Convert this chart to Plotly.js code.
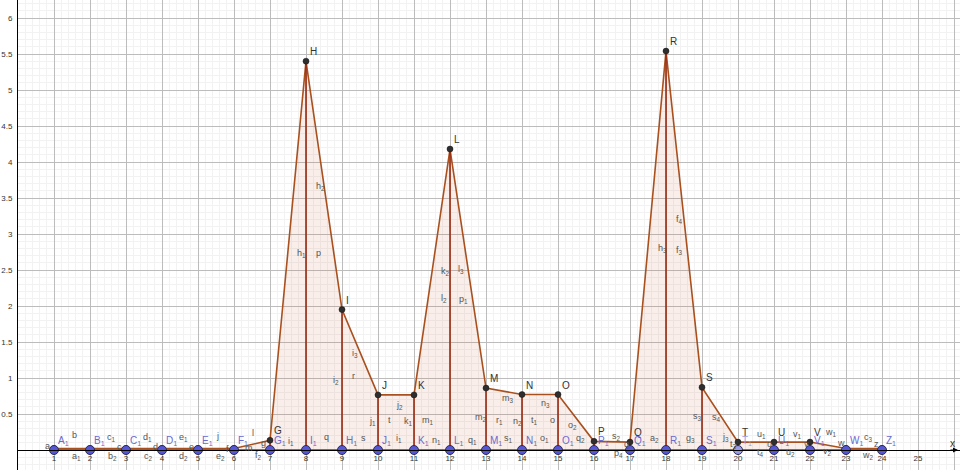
<!DOCTYPE html>
<html>
<head>
<meta charset="utf-8">
<script src="https://cdn.plot.ly/plotly-3.0.1.min.js"></script>
<style>html,body{margin:0;padding:0;background:#fff;}#chart{width:960px;height:470px;}</style>
</head>
<body>
<div id="chart"></div>
<script>
// ---- data ----
const xs = [1,2,3,4,5,6,7,8,9,10,11,12,13,14,15,16,17,18,19,20,21,22,23,24];
const heights = [0.02,0.02,0.02,0.02,0.02,0.02,0.135,5.40,1.95,0.765,0.765,4.18,0.86,0.77,0.77,0.12,0.11,5.54,0.87,0.11,0.11,0.11,0.02,0.02];
const topNames = ["","","","","","","G","H","I","J","K","L","M","N","O","P","Q","R","S","T","U","V","",""];
const footNames = ["A","B","C","D","E","F","G","I","H","J","K","L","M","N","O","P","Q","R","S","T","U","V","W","Z"];
const xTickVals = [0,1,2,3,4,5,6,7,8,9,10,11,12,13,14,15,16,17,18,19,20,21,22,23,24,25,26];
const xTickText = ["","1","2","3","4","5","6","7","8","9","10","11","12","13","14","15","16","17","18","19","20","21","22","23","24","25",""];
const yTickVals = [0,0.5,1,1.5,2,2.5,3,3.5,4,4.5,5,5.5,6];
const yTickText = ["","0.5","1","1.5","2","2.5","3","3.5","4","4.5","5","5.5","6"];
// segment / polygon labels (text, pixel position in the picture)
const segLabels = [
 ["a",47,446],["b",74,435],["a<sub>1</sub>",76,456],["c<sub>1</sub>",111,437],["c",119,447],["b<sub>2</sub>",112,456],
 ["d<sub>1</sub>",147,437],["d",155,447],["c<sub>2</sub>",148,456],["e<sub>1</sub>",183,437],["e",191,447],["d<sub>2</sub>",183,456],
 ["j",217,436],["e<sub>2</sub>",220,456],["f",227,449],["m",249,448],["l",253,433],["g",263,443],["f<sub>2</sub>",258,455],
 ["i<sub>1</sub>",291,441],["q",326,437],["s",363,438],
 ["h<sub>2</sub>",320,186],["h<sub>1</sub>",301,253],["p",318,253],["i<sub>3</sub>",355,353],["i<sub>2</sub>",336,380],["r",353,376],
 ["j<sub>2</sub>",399,405],["j<sub>1</sub>",372,421],["t",389,420],["k<sub>1</sub>",408,421],["m<sub>1</sub>",428,420],
 ["i<sub>1</sub>",399,438],["n<sub>1</sub>",436,440],["q<sub>1</sub>",472,440],
 ["k<sub>2</sub>",445,271],["l<sub>3</sub>",461,269],["l<sub>2</sub>",444,298],["p<sub>1</sub>",463,299],
 ["m<sub>3</sub>",508,398],["n<sub>3</sub>",545,403],["m<sub>2</sub>",481,417],["r<sub>1</sub>",499,420],["n<sub>2</sub>",517,421],
 ["t<sub>1</sub>",534,420],["o",552,420],["o<sub>2</sub>",572,425],["s<sub>1</sub>",508,438],["o<sub>1</sub>",544,438],["q<sub>2</sub>",580,438],
 ["s<sub>2</sub>",616,436],["q",626,444],["p<sub>4</sub>",618,453],["a<sub>2</sub>",654,438],["g<sub>3</sub>",690,438],
 ["f<sub>4</sub>",679,219],["h<sub>3</sub>",662,248],["f<sub>3</sub>",679,250],["s<sub>3</sub>",697,416],["s<sub>4</sub>",716,417],
 ["j<sub>3</sub>",725,437],["t<sub>3</sub>",733,444],["u<sub>1</sub>",761,434],["u",769,444],["t<sub>4</sub>",760,452],
 ["v<sub>1</sub>",797,434],["v",806,444],["u<sub>2</sub>",790,452],["w<sub>1</sub>",831,432],["w",841,443],["v<sub>2</sub>",827,451],
 ["c<sub>3</sub>",868,437],["z",876,444],["w<sub>2</sub>",868,455]
];

// ---- geometry of the view (GeoGebra: 36 px per x unit, 72 px per y unit) ----
const W = 960, H = 470, ML = 18;
const PXX = 36, PXY = 72, Y0PX = 450;
const xMax = (W - ML) / PXX;
const yMax = Y0PX / PXY, yMin = -(H - Y0PX) / PXY;
const toX = px => (px - ML) / PXX;
const toY = py => (Y0PX - py) / PXY;

const FONT = "Liberation Sans, Arial, sans-serif";
const topLine = "#a9501f", vertLine = "#9c2a0e";

// vertical segments
const vx = [], vy = [];
xs.forEach((x, i) => { vx.push(x, x, null); vy.push(0, heights[i], null); });

const traces = [
  {x: xs, y: heights, type: "scatter", mode: "lines", fill: "tozeroy",
   fillcolor: "rgba(204,102,51,0.11)", line: {color: topLine, width: 1.6}, hoverinfo: "skip"},
  {x: [xs[0], xs[xs.length - 1]], y: [0, 0], type: "scatter", mode: "lines",
   line: {color: vertLine, width: 1.6}, hoverinfo: "skip"},
  {x: vx, y: vy, type: "scatter", mode: "lines", line: {color: vertLine, width: 1.6}, hoverinfo: "skip"},
  {x: xs, y: heights, type: "scatter", mode: "markers",
   marker: {color: "#2e2e2e", size: 6, line: {color: "#111", width: 0.5}}, hoverinfo: "skip"},
  {x: xs, y: xs.map(() => 0), type: "scatter", mode: "markers",
   marker: {color: xs.map(x => x === 20 ? "#9c9ce6" : "#5656d6"), size: 9,
            line: {color: "#2a2a55", width: 1}}, hoverinfo: "skip"}
];

const ann = [];
xs.forEach((x, i) => {
  if (topNames[i]) ann.push({x: x, y: heights[i], text: topNames[i], showarrow: false,
    xanchor: "left", yanchor: "bottom", xshift: 2, yshift: 2,
    font: {family: FONT, size: 10, color: "#333"}});
  ann.push({x: x, y: 0, text: footNames[i] + "<sub>1</sub>", showarrow: false,
    xanchor: "left", yanchor: "bottom", xshift: 2, yshift: 1,
    font: {family: FONT, size: 10, color: x === 20 ? "#a0a0dd" : "#6a6ad0"}});
});
segLabels.forEach(s => ann.push({x: toX(s[1]), y: toY(s[2]), text: s[0], showarrow: false,
  xanchor: "center", yanchor: "middle", font: {family: FONT, size: 9, color: "#555"}}));
ann.push({x: toX(12), y: toY(458), text: "0", showarrow: false, xanchor: "center", yanchor: "middle",
  font: {family: FONT, size: 8, color: "#333"}});
ann.push({x: toX(952), y: toY(443), text: "x", showarrow: false, xanchor: "center", yanchor: "middle",
  font: {family: FONT, size: 10, color: "#333"}});
ann.push({x: toX(958), y: 0, ax: -9, ay: 0, text: "", showarrow: true, arrowhead: 2,
  arrowsize: 1, arrowwidth: 1, arrowcolor: "#000"});

const layout = {
  width: W, height: H,
  margin: {l: ML, r: 0, t: 0, b: 0},
  paper_bgcolor: "#fff", plot_bgcolor: "#fff",
  showlegend: false,
  xaxis: {range: [0, xMax], tickmode: "array", tickvals: xTickVals, ticktext: xTickText,
    anchor: "free", position: (H - Y0PX) / H, showline: true, linecolor: "#000", linewidth: 1,
    zeroline: false, ticks: "", showgrid: true, gridcolor: "#bcbcbc", gridwidth: 1,
    minor: {tick0: 0, dtick: 0.2, showgrid: true, gridcolor: "#f2f2f2", gridwidth: 1},
    tickfont: {family: FONT, size: 8, color: "#333"}, fixedrange: true},
  yaxis: {range: [yMin, yMax], tickmode: "array", tickvals: yTickVals, ticktext: yTickText,
    showline: true, linecolor: "#000", linewidth: 1, zeroline: false, ticks: "",
    showgrid: true, gridcolor: "#bcbcbc", gridwidth: 1,
    minor: {tick0: 0, dtick: 0.1, showgrid: true, gridcolor: "#f2f2f2", gridwidth: 1},
    tickfont: {family: FONT, size: 8, color: "#333"}, ticklabelstandoff: 3, fixedrange: true},
  annotations: ann
};

Plotly.newPlot("chart", traces, layout, {displayModeBar: false, staticPlot: true});
</script>
</body>
</html>
